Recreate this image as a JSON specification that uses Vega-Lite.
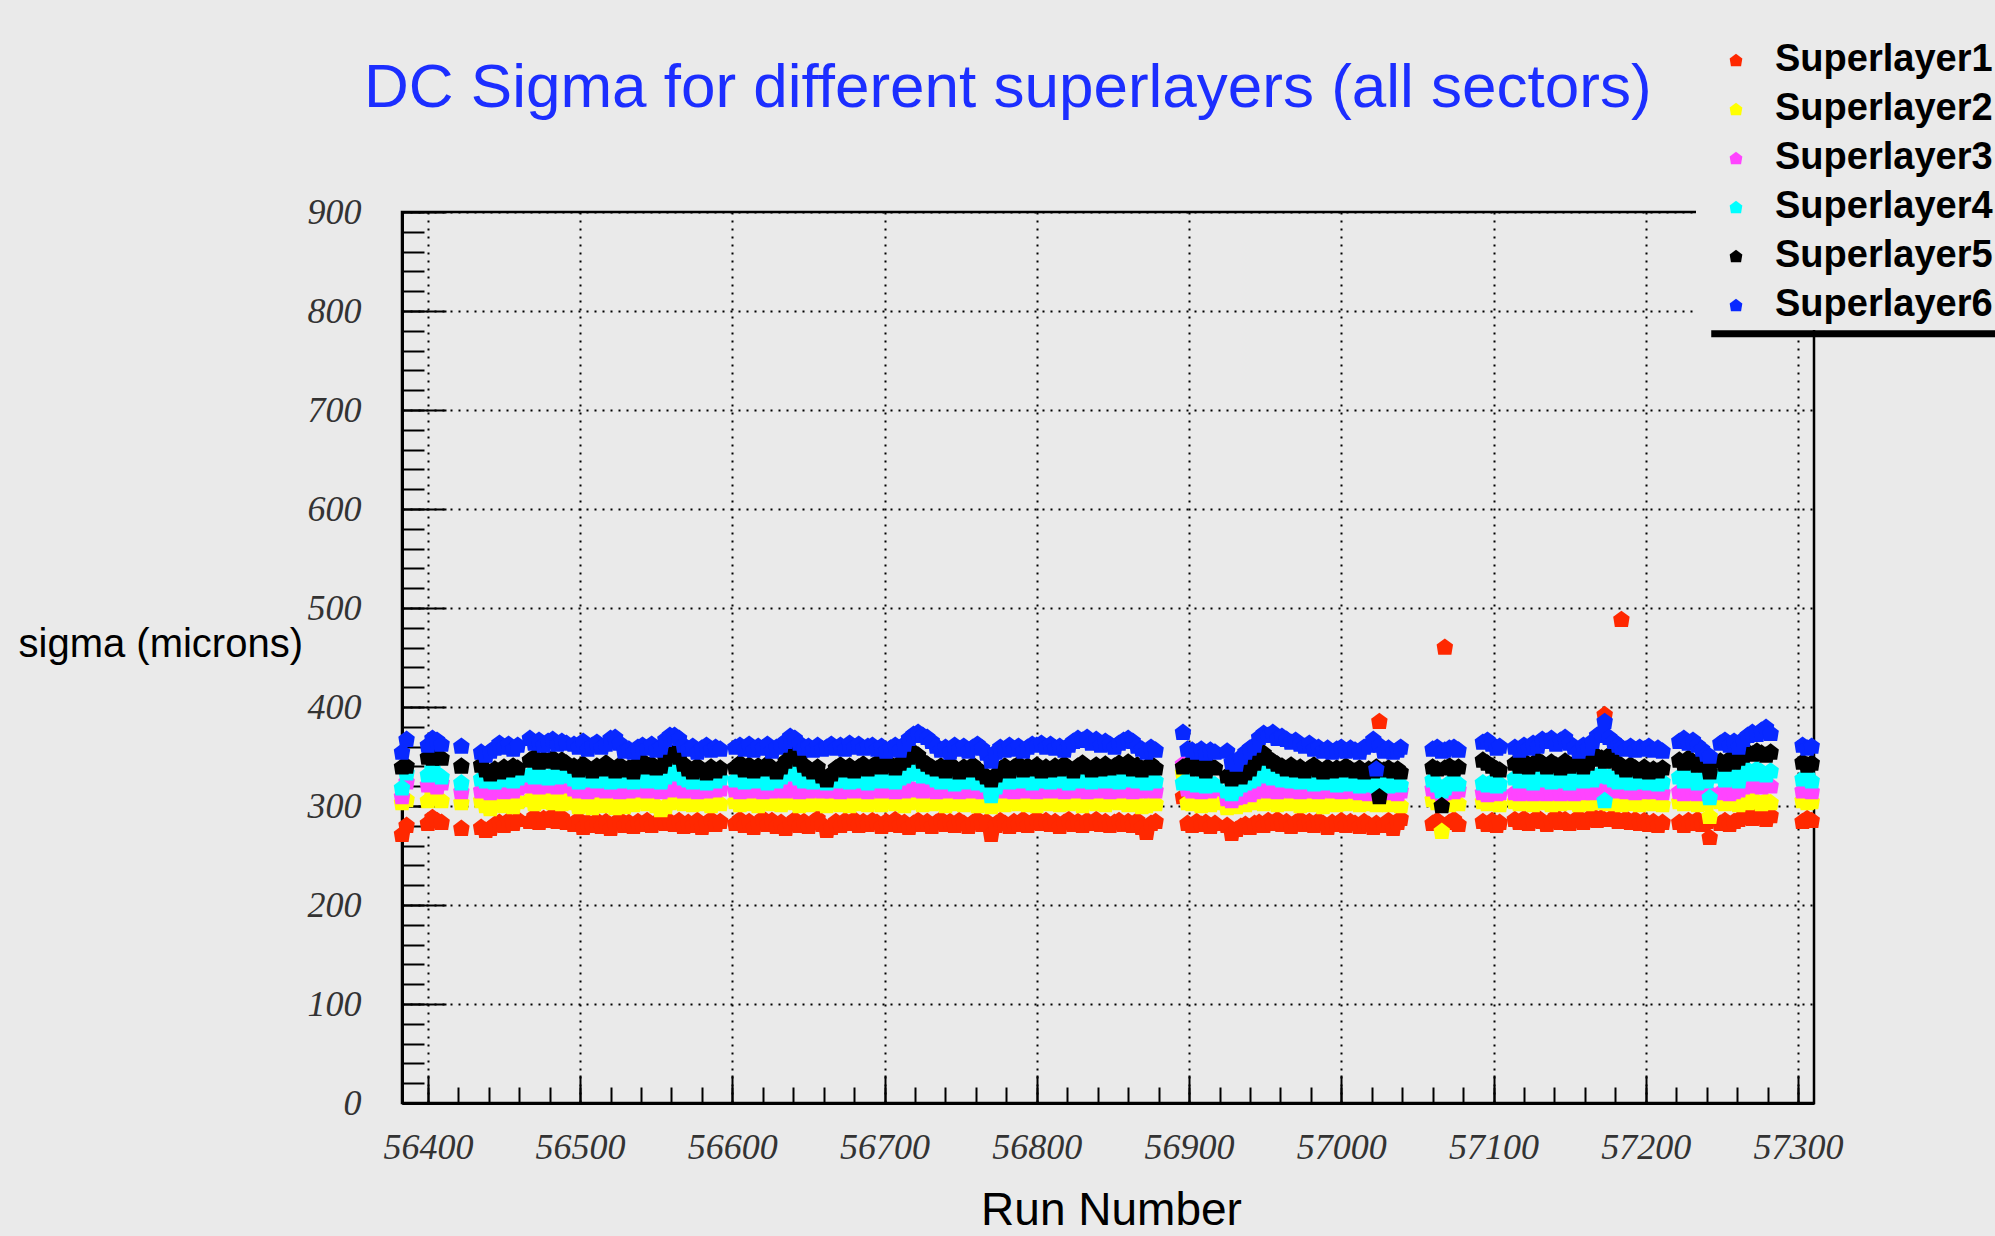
{
  "$schema": "https://vega.github.io/schema/vega-lite/v6.json",
  "autosize": {"type": "none"},
  "width": 1412,
  "height": 891,
  "padding": {"left": 402, "top": 212, "right": 181, "bottom": 133},
  "background": "#eaeaea",
  "config": {
    "view": {"stroke": "black", "strokeWidth": 2.5, "fill": "#eaeaea"}
  },
  "title": {
    "text": "DC Sigma for different superlayers (all sectors)",
    "font": "Liberation Sans",
    "fontSize": 62,
    "fontWeight": "normal",
    "color": "#1c2eff",
    "anchor": "start",
    "frame": "group",
    "orient": "top",
    "baseline": "alphabetic",
    "dx": -38,
    "offset": -134
  },
  "resolve": {"axis": {"x": "independent", "y": "independent"}},
  "layer": [
    {
      "data": {
        "values": [
          {"r":56383,"L1":272,"L2":304,"L3":310,"L4":319,"L5":340,"L6":355},
          {"r":56386,"L1":281,"L2":307,"L3":325,"L4":334,"L5":341,"L6":368},
          {"r":56400,"L1":283,"L2":306,"L3":322,"L4":332,"L5":350,"L6":362},
          {"r":56403,"L1":289,"L2":312,"L3":326,"L4":338,"L5":349,"L6":369},
          {"r":56406,"L1":286,"L2":309,"L3":320,"L4":333,"L5":351,"L6":367},
          {"r":56409,"L1":284,"L2":306,"L3":324,"L4":330,"L5":349,"L6":363},
          {"r":56422,"L1":278,"L2":304,"L3":315,"L4":324,"L5":341,"L6":361},
          {"r":56435,"L1":279,"L2":306,"L3":316,"L4":328,"L5":342,"L6":355},
          {"r":56438,"L1":276,"L2":301,"L3":318,"L4":326,"L5":337,"L6":352},
          {"r":56441,"L1":278,"L2":298,"L3":314,"L4":329,"L5":333,"L6":356},
          {"r":56444,"L1":282,"L2":303,"L3":317,"L4":325,"L5":338,"L6":359},
          {"r":56447,"L1":284,"L2":306,"L3":320,"L4":330,"L5":335,"L6":364},
          {"r":56450,"L1":281,"L2":301,"L3":315,"L4":327,"L5":340,"L6":360},
          {"r":56453,"L1":286,"L2":304,"L3":318,"L4":331,"L5":337,"L6":363},
          {"r":56456,"L1":283,"L2":300,"L3":316,"L4":326,"L5":341,"L6":358},
          {"r":56459,"L1":287,"L2":305,"L3":319,"L4":329,"L5":339,"L6":362},
          {"r":56467,"L1":285,"L2":307,"L3":321,"L4":332,"L5":347,"L6":369},
          {"r":56470,"L1":290,"L2":303,"L3":323,"L4":330,"L5":350,"L6":364},
          {"r":56473,"L1":284,"L2":309,"L3":320,"L4":333,"L5":345,"L6":367},
          {"r":56476,"L1":288,"L2":305,"L3":322,"L4":331,"L5":348,"L6":362},
          {"r":56479,"L1":286,"L2":310,"L3":321,"L4":329,"L5":346,"L6":366},
          {"r":56482,"L1":291,"L2":304,"L3":323,"L4":332,"L5":349,"L6":368},
          {"r":56485,"L1":285,"L2":307,"L3":320,"L4":330,"L5":345,"L6":363},
          {"r":56488,"L1":289,"L2":303,"L3":322,"L4":333,"L5":347,"L6":366},
          {"r":56491,"L1":284,"L2":308,"L3":321,"L4":331,"L5":344,"L6":364},
          {"r":56496,"L1":282,"L2":304,"L3":318,"L4":328,"L5":341,"L6":363},
          {"r":56499,"L1":287,"L2":300,"L3":316,"L4":325,"L5":337,"L6":360},
          {"r":56502,"L1":279,"L2":306,"L3":319,"L4":330,"L5":343,"L6":366},
          {"r":56505,"L1":284,"L2":302,"L3":315,"L4":327,"L5":339,"L6":358},
          {"r":56508,"L1":281,"L2":299,"L3":318,"L4":329,"L5":336,"L6":362},
          {"r":56511,"L1":286,"L2":305,"L3":317,"L4":326,"L5":341,"L6":365},
          {"r":56514,"L1":280,"L2":301,"L3":320,"L4":331,"L5":338,"L6":360},
          {"r":56517,"L1":285,"L2":307,"L3":316,"L4":328,"L5":344,"L6":363},
          {"r":56520,"L1":278,"L2":303,"L3":319,"L4":325,"L5":340,"L6":369},
          {"r":56523,"L1":283,"L2":299,"L3":317,"L4":329,"L5":336,"L6":370},
          {"r":56526,"L1":287,"L2":304,"L3":315,"L4":326,"L5":342,"L6":364},
          {"r":56529,"L1":281,"L2":300,"L3":318,"L4":330,"L5":337,"L6":356},
          {"r":56532,"L1":284,"L2":306,"L3":316,"L4":327,"L5":339,"L6":358},
          {"r":56535,"L1":280,"L2":302,"L3":319,"L4":325,"L5":335,"L6":355},
          {"r":56538,"L1":285,"L2":305,"L3":317,"L4":328,"L5":344,"L6":360},
          {"r":56541,"L1":282,"L2":308,"L3":320,"L4":330,"L5":346,"L6":362},
          {"r":56544,"L1":286,"L2":303,"L3":316,"L4":326,"L5":340,"L6":359},
          {"r":56547,"L1":281,"L2":306,"L3":318,"L4":329,"L5":343,"L6":363},
          {"r":56550,"L1":284,"L2":301,"L3":317,"L4":327,"L5":339,"L6":357},
          {"r":56553,"L1":287,"L2":297,"L3":315,"L4":325,"L5":341,"L6":360},
          {"r":56556,"L1":283,"L2":300,"L3":319,"L4":330,"L5":348,"L6":368},
          {"r":56559,"L1":285,"L2":304,"L3":317,"L4":334,"L5":352,"L6":372},
          {"r":56562,"L1":282,"L2":307,"L3":320,"L4":336,"L5":355,"L6":372},
          {"r":56565,"L1":286,"L2":305,"L3":318,"L4":333,"L5":350,"L6":369},
          {"r":56568,"L1":280,"L2":303,"L3":316,"L4":329,"L5":343,"L6":362},
          {"r":56571,"L1":284,"L2":306,"L3":319,"L4":327,"L5":338,"L6":358},
          {"r":56574,"L1":281,"L2":302,"L3":317,"L4":325,"L5":335,"L6":361},
          {"r":56577,"L1":286,"L2":305,"L3":315,"L4":330,"L5":341,"L6":355},
          {"r":56580,"L1":279,"L2":303,"L3":318,"L4":326,"L5":337,"L6":359},
          {"r":56583,"L1":283,"L2":307,"L3":316,"L4":324,"L5":334,"L6":362},
          {"r":56586,"L1":287,"L2":301,"L3":319,"L4":328,"L5":340,"L6":357},
          {"r":56589,"L1":282,"L2":305,"L3":317,"L4":326,"L5":336,"L6":360},
          {"r":56592,"L1":285,"L2":303,"L3":318,"L4":329,"L5":339,"L6":358},
          {"r":56602,"L1":283,"L2":305,"L3":317,"L4":327,"L5":340,"L6":360},
          {"r":56605,"L1":287,"L2":302,"L3":315,"L4":330,"L5":344,"L6":362},
          {"r":56608,"L1":281,"L2":307,"L3":318,"L4":325,"L5":337,"L6":358},
          {"r":56611,"L1":285,"L2":303,"L3":316,"L4":329,"L5":342,"L6":363},
          {"r":56614,"L1":279,"L2":306,"L3":319,"L4":326,"L5":336,"L6":357},
          {"r":56617,"L1":284,"L2":301,"L3":317,"L4":331,"L5":341,"L6":361},
          {"r":56620,"L1":288,"L2":305,"L3":315,"L4":327,"L5":338,"L6":359},
          {"r":56623,"L1":282,"L2":308,"L3":318,"L4":324,"L5":343,"L6":363},
          {"r":56626,"L1":286,"L2":303,"L3":316,"L4":328,"L5":339,"L6":356},
          {"r":56629,"L1":280,"L2":306,"L3":317,"L4":326,"L5":335,"L6":360},
          {"r":56632,"L1":284,"L2":302,"L3":319,"L4":330,"L5":340,"L6":362},
          {"r":56635,"L1":278,"L2":305,"L3":316,"L4":333,"L5":346,"L6":366},
          {"r":56638,"L1":283,"L2":307,"L3":318,"L4":336,"L5":351,"L6":371},
          {"r":56641,"L1":287,"L2":304,"L3":317,"L4":334,"L5":354,"L6":369},
          {"r":56644,"L1":281,"L2":301,"L3":315,"L4":329,"L5":348,"L6":364},
          {"r":56647,"L1":285,"L2":305,"L3":318,"L4":326,"L5":342,"L6":359},
          {"r":56650,"L1":280,"L2":302,"L3":316,"L4":328,"L5":338,"L6":361},
          {"r":56653,"L1":284,"L2":306,"L3":319,"L4":325,"L5":335,"L6":357},
          {"r":56656,"L1":288,"L2":303,"L3":317,"L4":329,"L5":340,"L6":362},
          {"r":56659,"L1":282,"L2":305,"L3":316,"L4":327,"L5":331,"L6":358},
          {"r":56662,"L1":276,"L2":301,"L3":318,"L4":324,"L5":327,"L6":360},
          {"r":56665,"L1":279,"L2":304,"L3":316,"L4":328,"L5":333,"L6":363},
          {"r":56668,"L1":285,"L2":307,"L3":318,"L4":326,"L5":339,"L6":359},
          {"r":56671,"L1":281,"L2":302,"L3":315,"L4":330,"L5":342,"L6":362},
          {"r":56674,"L1":286,"L2":305,"L3":317,"L4":327,"L5":337,"L6":358},
          {"r":56677,"L1":283,"L2":301,"L3":319,"L4":325,"L5":341,"L6":364},
          {"r":56680,"L1":287,"L2":306,"L3":316,"L4":329,"L5":336,"L6":360},
          {"r":56683,"L1":281,"L2":303,"L3":318,"L4":326,"L5":340,"L6":363},
          {"r":56686,"L1":285,"L2":307,"L3":317,"L4":328,"L5":343,"L6":359},
          {"r":56689,"L1":282,"L2":302,"L3":315,"L4":324,"L5":338,"L6":361},
          {"r":56692,"L1":286,"L2":305,"L3":318,"L4":327,"L5":341,"L6":362},
          {"r":56695,"L1":284,"L2":306,"L3":318,"L4":328,"L5":344,"L6":358},
          {"r":56698,"L1":280,"L2":302,"L3":316,"L4":326,"L5":340,"L6":361},
          {"r":56701,"L1":285,"L2":305,"L3":319,"L4":330,"L5":346,"L6":356},
          {"r":56704,"L1":282,"L2":308,"L3":317,"L4":327,"L5":342,"L6":359},
          {"r":56707,"L1":287,"L2":303,"L3":315,"L4":325,"L5":339,"L6":362},
          {"r":56710,"L1":281,"L2":306,"L3":318,"L4":329,"L5":344,"L6":357},
          {"r":56713,"L1":284,"L2":301,"L3":316,"L4":331,"L5":347,"L6":363},
          {"r":56716,"L1":279,"L2":304,"L3":319,"L4":333,"L5":350,"L6":369},
          {"r":56719,"L1":283,"L2":307,"L3":317,"L4":336,"L5":355,"L6":373},
          {"r":56722,"L1":286,"L2":305,"L3":318,"L4":334,"L5":352,"L6":375},
          {"r":56725,"L1":282,"L2":302,"L3":316,"L4":331,"L5":346,"L6":372},
          {"r":56728,"L1":285,"L2":306,"L3":319,"L4":335,"L5":343,"L6":370},
          {"r":56731,"L1":280,"L2":303,"L3":317,"L4":330,"L5":340,"L6":366},
          {"r":56734,"L1":284,"L2":307,"L3":315,"L4":327,"L5":338,"L6":361},
          {"r":56737,"L1":287,"L2":304,"L3":318,"L4":325,"L5":341,"L6":357},
          {"r":56740,"L1":282,"L2":301,"L3":316,"L4":329,"L5":336,"L6":360},
          {"r":56743,"L1":285,"L2":306,"L3":319,"L4":326,"L5":343,"L6":355},
          {"r":56746,"L1":281,"L2":303,"L3":317,"L4":323,"L5":339,"L6":362},
          {"r":56749,"L1":286,"L2":305,"L3":315,"L4":328,"L5":335,"L6":358},
          {"r":56752,"L1":283,"L2":302,"L3":318,"L4":325,"L5":340,"L6":361},
          {"r":56755,"L1":280,"L2":307,"L3":316,"L4":330,"L5":337,"L6":356},
          {"r":56758,"L1":284,"L2":304,"L3":319,"L4":327,"L5":342,"L6":360},
          {"r":56761,"L1":287,"L2":301,"L3":317,"L4":324,"L5":338,"L6":363},
          {"r":56764,"L1":282,"L2":305,"L3":315,"L4":328,"L5":334,"L6":359},
          {"r":56767,"L1":285,"L2":303,"L3":318,"L4":322,"L5":330,"L6":354},
          {"r":56770,"L1":272,"L2":300,"L3":316,"L4":311,"L5":327,"L6":346},
          {"r":56773,"L1":281,"L2":304,"L3":317,"L4":320,"L5":332,"L6":355},
          {"r":56776,"L1":286,"L2":306,"L3":319,"L4":326,"L5":338,"L6":360},
          {"r":56779,"L1":283,"L2":302,"L3":316,"L4":329,"L5":341,"L6":357},
          {"r":56782,"L1":280,"L2":305,"L3":318,"L4":325,"L5":336,"L6":362},
          {"r":56785,"L1":285,"L2":308,"L3":315,"L4":328,"L5":340,"L6":358},
          {"r":56788,"L1":282,"L2":303,"L3":317,"L4":326,"L5":343,"L6":361},
          {"r":56791,"L1":287,"L2":306,"L3":319,"L4":330,"L5":337,"L6":356},
          {"r":56794,"L1":281,"L2":302,"L3":316,"L4":327,"L5":341,"L6":360},
          {"r":56797,"L1":284,"L2":305,"L3":318,"L4":324,"L5":338,"L6":363},
          {"r":56800,"L1":288,"L2":301,"L3":315,"L4":328,"L5":342,"L6":362},
          {"r":56803,"L1":283,"L2":304,"L3":317,"L4":326,"L5":336,"L6":364},
          {"r":56806,"L1":286,"L2":307,"L3":319,"L4":329,"L5":340,"L6":360},
          {"r":56809,"L1":282,"L2":303,"L3":316,"L4":325,"L5":337,"L6":363},
          {"r":56812,"L1":285,"L2":306,"L3":318,"L4":327,"L5":341,"L6":359},
          {"r":56815,"L1":280,"L2":302,"L3":317,"L4":330,"L5":338,"L6":361},
          {"r":56818,"L1":284,"L2":305,"L3":315,"L4":326,"L5":343,"L6":357},
          {"r":56821,"L1":287,"L2":303,"L3":318,"L4":324,"L5":339,"L6":362},
          {"r":56824,"L1":282,"L2":307,"L3":316,"L4":328,"L5":336,"L6":366},
          {"r":56827,"L1":285,"L2":304,"L3":319,"L4":326,"L5":341,"L6":369},
          {"r":56830,"L1":281,"L2":301,"L3":317,"L4":329,"L5":344,"L6":367},
          {"r":56833,"L1":286,"L2":305,"L3":315,"L4":327,"L5":340,"L6":370},
          {"r":56836,"L1":283,"L2":308,"L3":318,"L4":325,"L5":337,"L6":364},
          {"r":56839,"L1":287,"L2":303,"L3":316,"L4":330,"L5":342,"L6":368},
          {"r":56842,"L1":282,"L2":306,"L3":319,"L4":328,"L5":338,"L6":362},
          {"r":56845,"L1":285,"L2":302,"L3":317,"L4":326,"L5":343,"L6":366},
          {"r":56848,"L1":281,"L2":305,"L3":315,"L4":329,"L5":339,"L6":363},
          {"r":56851,"L1":284,"L2":307,"L3":318,"L4":327,"L5":341,"L6":360},
          {"r":56854,"L1":286,"L2":304,"L3":316,"L4":325,"L5":344,"L6":364},
          {"r":56857,"L1":282,"L2":306,"L3":318,"L4":329,"L5":340,"L6":367},
          {"r":56860,"L1":285,"L2":302,"L3":317,"L4":327,"L5":345,"L6":369},
          {"r":56863,"L1":281,"L2":305,"L3":315,"L4":330,"L5":338,"L6":366},
          {"r":56866,"L1":286,"L2":303,"L3":318,"L4":326,"L5":342,"L6":361},
          {"r":56869,"L1":279,"L2":300,"L3":316,"L4":328,"L5":337,"L6":358},
          {"r":56872,"L1":274,"L2":301,"L3":317,"L4":324,"L5":340,"L6":355},
          {"r":56875,"L1":283,"L2":305,"L3":319,"L4":329,"L5":343,"L6":360},
          {"r":56878,"L1":285,"L2":303,"L3":316,"L4":326,"L5":339,"L6":357},
          {"r":56896,"L1":310,"L2":334,"L3":343,"L4":324,"L5":340,"L6":375},
          {"r":56899,"L1":283,"L2":304,"L3":318,"L4":326,"L5":342,"L6":358},
          {"r":56902,"L1":281,"L2":303,"L3":316,"L4":324,"L5":343,"L6":357},
          {"r":56905,"L1":285,"L2":306,"L3":318,"L4":322,"L5":338,"L6":355},
          {"r":56908,"L1":282,"L2":301,"L3":315,"L4":325,"L5":345,"L6":358},
          {"r":56911,"L1":284,"L2":305,"L3":317,"L4":321,"L5":336,"L6":354},
          {"r":56914,"L1":280,"L2":302,"L3":316,"L4":324,"L5":341,"L6":357},
          {"r":56917,"L1":283,"L2":304,"L3":318,"L4":322,"L5":339,"L6":355},
          {"r":56925,"L1":281,"L2":299,"L3":308,"L4":316,"L5":331,"L6":356},
          {"r":56928,"L1":273,"L2":301,"L3":306,"L4":313,"L5":328,"L6":345},
          {"r":56931,"L1":277,"L2":300,"L3":309,"L4":318,"L5":333,"L6":343},
          {"r":56934,"L1":280,"L2":304,"L3":310,"L4":322,"L5":330,"L6":350},
          {"r":56937,"L1":282,"L2":302,"L3":313,"L4":324,"L5":334,"L6":355},
          {"r":56940,"L1":279,"L2":306,"L3":312,"L4":326,"L5":338,"L6":359},
          {"r":56943,"L1":283,"L2":304,"L3":315,"L4":328,"L5":344,"L6":362},
          {"r":56946,"L1":284,"L2":306,"L3":317,"L4":337,"L5":352,"L6":370},
          {"r":56949,"L1":281,"L2":303,"L3":319,"L4":334,"L5":354,"L6":374},
          {"r":56952,"L1":286,"L2":305,"L3":316,"L4":331,"L5":349,"L6":372},
          {"r":56955,"L1":283,"L2":308,"L3":318,"L4":329,"L5":346,"L6":375},
          {"r":56958,"L1":287,"L2":302,"L3":315,"L4":333,"L5":343,"L6":369},
          {"r":56961,"L1":282,"L2":306,"L3":317,"L4":327,"L5":341,"L6":371},
          {"r":56964,"L1":285,"L2":303,"L3":319,"L4":330,"L5":338,"L6":368},
          {"r":56967,"L1":280,"L2":307,"L3":316,"L4":326,"L5":342,"L6":365},
          {"r":56970,"L1":284,"L2":304,"L3":318,"L4":328,"L5":337,"L6":367},
          {"r":56973,"L1":287,"L2":301,"L3":315,"L4":325,"L5":340,"L6":363},
          {"r":56976,"L1":282,"L2":305,"L3":317,"L4":329,"L5":336,"L6":361},
          {"r":56979,"L1":285,"L2":302,"L3":316,"L4":326,"L5":339,"L6":364},
          {"r":56982,"L1":281,"L2":306,"L3":318,"L4":323,"L5":342,"L6":358},
          {"r":56985,"L1":286,"L2":303,"L3":315,"L4":327,"L5":337,"L6":360},
          {"r":56988,"L1":283,"L2":300,"L3":317,"L4":324,"L5":335,"L6":356},
          {"r":56991,"L1":279,"L2":304,"L3":319,"L4":328,"L5":340,"L6":359},
          {"r":56994,"L1":284,"L2":307,"L3":316,"L4":325,"L5":336,"L6":355},
          {"r":56997,"L1":282,"L2":302,"L3":318,"L4":322,"L5":339,"L6":358},
          {"r":57000,"L1":286,"L2":305,"L3":315,"L4":326,"L5":337,"L6":360},
          {"r":57003,"L1":281,"L2":303,"L3":317,"L4":323,"L5":341,"L6":356},
          {"r":57006,"L1":285,"L2":306,"L3":316,"L4":327,"L5":338,"L6":359},
          {"r":57009,"L1":283,"L2":304,"L3":316,"L4":324,"L5":336,"L6":357},
          {"r":57012,"L1":280,"L2":302,"L3":314,"L4":321,"L5":339,"L6":355},
          {"r":57015,"L1":285,"L2":306,"L3":315,"L4":325,"L5":335,"L6":360},
          {"r":57018,"L1":282,"L2":303,"L3":313,"L4":322,"L5":338,"L6":362},
          {"r":57021,"L1":279,"L2":305,"L3":316,"L4":324,"L5":336,"L6":368},
          {"r":57023,"L1":283,"L2":302,"L3":314,"L4":321,"L5":340,"L6":338},
          {"r":57025,"L1":386,"L2":303,"L3":315,"L4":322,"L5":310,"L6":362},
          {"r":57028,"L1":281,"L2":304,"L3":316,"L4":325,"L5":337,"L6":356},
          {"r":57031,"L1":286,"L2":302,"L3":314,"L4":321,"L5":339,"L6":359},
          {"r":57034,"L1":278,"L2":305,"L3":315,"L4":323,"L5":336,"L6":355},
          {"r":57037,"L1":284,"L2":303,"L3":313,"L4":326,"L5":338,"L6":357},
          {"r":57039,"L1":288,"L2":301,"L3":316,"L4":322,"L5":335,"L6":360},
          {"r":57060,"L1":283,"L2":307,"L3":318,"L4":327,"L5":340,"L6":358},
          {"r":57063,"L1":286,"L2":304,"L3":315,"L4":322,"L5":338,"L6":360},
          {"r":57066,"L1":280,"L2":275,"L3":313,"L4":316,"L5":301,"L6":356},
          {"r":57068,"L1":461,"L2":305,"L3":314,"L4":319,"L5":339,"L6":357},
          {"r":57071,"L1":284,"L2":302,"L3":316,"L4":324,"L5":341,"L6":359},
          {"r":57074,"L1":287,"L2":306,"L3":315,"L4":326,"L5":338,"L6":360},
          {"r":57077,"L1":282,"L2":303,"L3":317,"L4":323,"L5":340,"L6":357},
          {"r":57093,"L1":285,"L2":305,"L3":314,"L4":324,"L5":347,"L6":365},
          {"r":57096,"L1":282,"L2":303,"L3":312,"L4":322,"L5":344,"L6":367},
          {"r":57099,"L1":286,"L2":306,"L3":315,"L4":325,"L5":341,"L6":363},
          {"r":57102,"L1":281,"L2":304,"L3":313,"L4":321,"L5":338,"L6":359},
          {"r":57104,"L1":284,"L2":302,"L3":314,"L4":323,"L5":337,"L6":361},
          {"r":57114,"L1":287,"L2":305,"L3":314,"L4":329,"L5":344,"L6":360},
          {"r":57117,"L1":284,"L2":303,"L3":313,"L4":326,"L5":341,"L6":357},
          {"r":57120,"L1":288,"L2":306,"L3":315,"L4":330,"L5":346,"L6":362},
          {"r":57123,"L1":283,"L2":304,"L3":314,"L4":327,"L5":340,"L6":359},
          {"r":57126,"L1":286,"L2":302,"L3":313,"L4":324,"L5":343,"L6":364},
          {"r":57129,"L1":289,"L2":305,"L3":316,"L4":328,"L5":347,"L6":361},
          {"r":57132,"L1":285,"L2":307,"L3":314,"L4":331,"L5":344,"L6":368},
          {"r":57135,"L1":282,"L2":304,"L3":313,"L4":327,"L5":340,"L6":366},
          {"r":57138,"L1":286,"L2":302,"L3":315,"L4":325,"L5":345,"L6":369},
          {"r":57141,"L1":290,"L2":306,"L3":314,"L4":329,"L5":342,"L6":363},
          {"r":57144,"L1":284,"L2":303,"L3":313,"L4":326,"L5":339,"L6":367},
          {"r":57147,"L1":287,"L2":305,"L3":316,"L4":330,"L5":346,"L6":370},
          {"r":57150,"L1":283,"L2":304,"L3":314,"L4":324,"L5":341,"L6":364},
          {"r":57153,"L1":286,"L2":306,"L3":313,"L4":328,"L5":343,"L6":360},
          {"r":57156,"L1":289,"L2":302,"L3":315,"L4":331,"L5":347,"L6":356},
          {"r":57159,"L1":284,"L2":305,"L3":314,"L4":326,"L5":340,"L6":362},
          {"r":57162,"L1":287,"L2":303,"L3":316,"L4":329,"L5":344,"L6":359},
          {"r":57165,"L1":291,"L2":306,"L3":314,"L4":327,"L5":348,"L6":366},
          {"r":57168,"L1":286,"L2":304,"L3":318,"L4":331,"L5":351,"L6":372},
          {"r":57171,"L1":289,"L2":307,"L3":320,"L4":333,"L5":349,"L6":375},
          {"r":57173,"L1":393,"L2":305,"L3":322,"L4":306,"L5":346,"L6":386},
          {"r":57176,"L1":287,"L2":303,"L3":317,"L4":330,"L5":352,"L6":370},
          {"r":57179,"L1":290,"L2":306,"L3":319,"L4":327,"L5":347,"L6":366},
          {"r":57182,"L1":285,"L2":304,"L3":316,"L4":325,"L5":344,"L6":362},
          {"r":57184,"L1":489,"L2":302,"L3":318,"L4":329,"L5":340,"L6":360},
          {"r":57187,"L1":288,"L2":306,"L3":315,"L4":326,"L5":337,"L6":358},
          {"r":57190,"L1":284,"L2":303,"L3":317,"L4":324,"L5":342,"L6":361},
          {"r":57193,"L1":287,"L2":305,"L3":314,"L4":328,"L5":339,"L6":357},
          {"r":57196,"L1":283,"L2":302,"L3":316,"L4":325,"L5":336,"L6":360},
          {"r":57199,"L1":286,"L2":304,"L3":315,"L4":327,"L5":340,"L6":358},
          {"r":57202,"L1":282,"L2":306,"L3":317,"L4":324,"L5":335,"L6":361},
          {"r":57205,"L1":285,"L2":303,"L3":315,"L4":326,"L5":338,"L6":357},
          {"r":57208,"L1":281,"L2":305,"L3":316,"L4":323,"L5":336,"L6":359},
          {"r":57211,"L1":284,"L2":302,"L3":314,"L4":325,"L5":339,"L6":356},
          {"r":57222,"L1":284,"L2":305,"L3":315,"L4":330,"L5":347,"L6":366},
          {"r":57225,"L1":281,"L2":303,"L3":313,"L4":326,"L5":344,"L6":369},
          {"r":57228,"L1":286,"L2":306,"L3":314,"L4":333,"L5":349,"L6":364},
          {"r":57231,"L1":283,"L2":304,"L3":315,"L4":328,"L5":345,"L6":367},
          {"r":57234,"L1":287,"L2":302,"L3":313,"L4":324,"L5":342,"L6":362},
          {"r":57237,"L1":282,"L2":305,"L3":314,"L4":329,"L5":347,"L6":358},
          {"r":57240,"L1":285,"L2":303,"L3":316,"L4":326,"L5":343,"L6":353},
          {"r":57242,"L1":269,"L2":290,"L3":311,"L4":309,"L5":335,"L6":351},
          {"r":57249,"L1":283,"L2":305,"L3":314,"L4":331,"L5":346,"L6":364},
          {"r":57252,"L1":286,"L2":303,"L3":316,"L4":327,"L5":343,"L6":367},
          {"r":57255,"L1":282,"L2":306,"L3":313,"L4":333,"L5":348,"L6":362},
          {"r":57258,"L1":285,"L2":304,"L3":315,"L4":329,"L5":345,"L6":366},
          {"r":57261,"L1":287,"L2":302,"L3":317,"L4":326,"L5":349,"L6":360},
          {"r":57264,"L1":289,"L2":306,"L3":320,"L4":334,"L5":352,"L6":368},
          {"r":57267,"L1":291,"L2":304,"L3":322,"L4":337,"L5":355,"L6":372},
          {"r":57270,"L1":288,"L2":307,"L3":321,"L4":333,"L5":353,"L6":375},
          {"r":57273,"L1":292,"L2":305,"L3":323,"L4":338,"L5":356,"L6":373},
          {"r":57276,"L1":290,"L2":303,"L3":320,"L4":335,"L5":354,"L6":377},
          {"r":57279,"L1":287,"L2":306,"L3":322,"L4":332,"L5":352,"L6":380},
          {"r":57282,"L1":291,"L2":304,"L3":321,"L4":336,"L5":355,"L6":374},
          {"r":57303,"L1":285,"L2":306,"L3":316,"L4":328,"L5":345,"L6":362},
          {"r":57306,"L1":288,"L2":304,"L3":318,"L4":331,"L5":342,"L6":359},
          {"r":57309,"L1":286,"L2":305,"L3":315,"L4":326,"L5":344,"L6":361}
        ]
      },
      "transform": [
        {"fold": ["L1", "L2", "L3", "L4", "L5", "L6"], "as": ["layer", "sigma"]}
      ],
      "mark": {"type": "point", "shape": "M0,-1L1,-0.25L0.8,1L-0.8,1L-1,-0.25Z", "filled": true, "size": 270, "opacity": 1, "strokeWidth": 0},
      "encoding": {
        "x": {
          "field": "r",
          "type": "quantitative",
          "scale": {"domain": [56383, 57310.5], "nice": false, "zero": false},
          "axis": {
            "orient": "bottom",
            "values": [56400, 56500, 56600, 56700, 56800, 56900, 57000, 57100, 57200, 57300],
            "format": "d",
            "labelFont": "Liberation Serif",
            "labelFontStyle": "italic",
            "labelFontSize": 36,
            "labelColor": "#333333",
            "labelBaseline": "alphabetic",
            "labelPadding": 83,
            "labelFlush": false,
            "labelOverlap": false,
            "tickSize": -28,
            "tickWidth": 2,
            "tickColor": "black",
            "domainColor": "black",
            "domainWidth": 3,
            "grid": true,
            "gridColor": "black",
            "gridDash": [2, 6],
            "gridWidth": 2,
            "title": "Run Number",
            "titleFont": "Liberation Sans",
            "titleFontSize": 46,
            "titleFontWeight": "normal",
            "titleColor": "black",
            "titleAlign": "center",
            "titleBaseline": "alphabetic",
            "titleX": 709,
            "titleY": 121
          }
        },
        "y": {
          "field": "sigma",
          "type": "quantitative",
          "scale": {"domain": [0, 900], "nice": false, "zero": false},
          "axis": {
            "orient": "left",
            "values": [0, 100, 200, 300, 400, 500, 600, 700, 800, 900],
            "labelFont": "Liberation Serif",
            "labelFontStyle": "italic",
            "labelFontSize": 36,
            "labelColor": "#333333",
            "labelAlign": "right",
            "labelBaseline": "middle",
            "labelPadding": 85,
            "labelFlush": false,
            "labelOverlap": false,
            "tickSize": -44,
            "tickWidth": 2,
            "tickColor": "black",
            "domainColor": "black",
            "domainWidth": 3,
            "grid": true,
            "gridColor": "black",
            "gridDash": [2, 6],
            "gridWidth": 2,
            "title": "sigma (microns)",
            "titleFont": "Liberation Sans",
            "titleFontSize": 40,
            "titleFontWeight": "normal",
            "titleColor": "black",
            "titleAngle": 0,
            "titleAlign": "left",
            "titleBaseline": "alphabetic",
            "titleX": -384,
            "titleY": 444
          }
        },
        "color": {
          "field": "layer",
          "type": "nominal",
          "scale": {
            "domain": ["L1", "L2", "L3", "L4", "L5", "L6"],
            "range": ["#ff2800", "#ffff00", "#ff44ff", "#00ffff", "#000000", "#0828ff"]
          },
          "legend": {
            "orient": "none",
            "legendX": 1294,
            "legendY": -177,
            "title": null,
            "padding": 6,
            "fillColor": "#eaeaea",
            "symbolType": "M0,-1L1,-0.25L0.8,1L-0.8,1L-1,-0.25Z",
            "symbolSize": 160,
            "symbolStrokeWidth": 0,
            "symbolOffset": 15,
            "labelOffset": 20,
            "rowPadding": 11,
            "labelFont": "Liberation Sans",
            "labelFontWeight": "bold",
            "labelFontSize": 38,
            "labelColor": "black",
            "labelLimit": 0,
            "labelExpr": "'Superlayer' + substring(datum.label, 1)"
          }
        },
        "order": {"field": "layer", "type": "ordinal"}
      }
    },
    {
      "data": {"values": [{}]},
      "mark": {"type": "point", "opacity": 0},
      "encoding": {
        "x": {
          "datum": 56400,
          "type": "quantitative",
          "scale": {"domain": [56383, 57310.5], "nice": false, "zero": false},
          "axis": {
            "orient": "bottom",
            "values": [56400, 56420, 56440, 56460, 56480, 56500, 56520, 56540, 56560, 56580, 56600, 56620, 56640, 56660, 56680, 56700, 56720, 56740, 56760, 56780, 56800, 56820, 56840, 56860, 56880, 56900, 56920, 56940, 56960, 56980, 57000, 57020, 57040, 57060, 57080, 57100, 57120, 57140, 57160, 57180, 57200, 57220, 57240, 57260, 57280, 57300],
            "labels": false,
            "domain": false,
            "grid": false,
            "tickSize": -16,
            "tickWidth": 2,
            "tickColor": "black",
            "title": null
          }
        },
        "y": {
          "datum": 0,
          "type": "quantitative",
          "scale": {"domain": [0, 900], "nice": false, "zero": false},
          "axis": {
            "orient": "left",
            "values": [0, 20, 40, 60, 80, 100, 120, 140, 160, 180, 200, 220, 240, 260, 280, 300, 320, 340, 360, 380, 400, 420, 440, 460, 480, 500, 520, 540, 560, 580, 600, 620, 640, 660, 680, 700, 720, 740, 760, 780, 800, 820, 840, 860, 880, 900],
            "labels": false,
            "domain": false,
            "grid": false,
            "tickSize": -22,
            "tickWidth": 2,
            "tickColor": "black",
            "title": null
          }
        }
      }
    },
    {
      "data": {"values": [{}]},
      "mark": {"type": "rule", "color": "black", "strokeWidth": 7, "clip": false},
      "encoding": {
        "x": {"datum": 57243, "type": "quantitative", "axis": null, "scale": {"domain": [56383, 57310.5], "nice": false, "zero": false}},
        "x2": {"datum": 57500},
        "y": {"datum": 777, "type": "quantitative", "axis": null, "scale": {"domain": [0, 900], "nice": false, "zero": false}}
      }
    }
  ]
}
